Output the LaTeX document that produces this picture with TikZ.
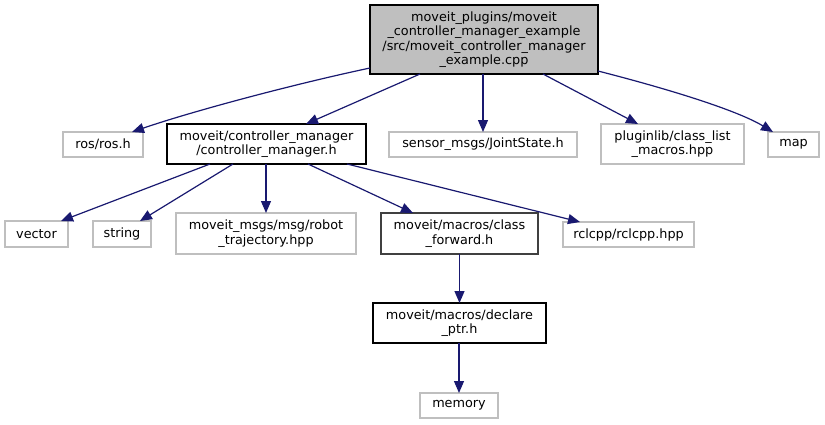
\documentclass[tikz,border=0pt]{standalone}
\usepackage{fontspec}
\setmainfont{DejaVu Sans}
\usetikzlibrary{arrows.meta,calc}
\definecolor{edgeblue}{HTML}{191970}
\definecolor{lightframe}{HTML}{BFBFBF}
\definecolor{darkframe}{HTML}{404040}
\definecolor{mainfill}{HTML}{BFBFBF}
\begin{document}
\begin{tikzpicture}[x=1pt,y=-1pt,
  every node/.style={font=\fontsize{12.8}{14.3}\selectfont, align=center, inner sep=0pt, outer sep=0pt, text=black},
  filebox/.style={draw=lightframe, line width=1.3pt, fill=white, rectangle},
  docbox/.style={draw=black, line width=1.3pt, fill=white, rectangle},
  fwdbox/.style={draw=darkframe, line width=1.3pt, fill=white, rectangle},
  mainbox/.style={draw=black, line width=1.3pt, fill=mainfill, rectangle},
  dep/.style={draw=edgeblue, line width=1.2pt, -{Triangle[length=12pt,width=10pt]}}]
\useasboundingbox (0,0) rectangle (825,424);
\fill[white] (0,0) rectangle (825,424);

\node[mainbox, minimum width=228pt, minimum height=69pt] (main) at (484,39.5)
  {moveit\_plugins/moveit\\\_controller\_manager\_example\\/src/moveit\_controller\_manager\\\_example.cpp};
\node[filebox, minimum width=80pt, minimum height=25pt] (ros) at (103,144.5) {ros/ros.h};
\node[docbox, minimum width=199pt, minimum height=40pt] (cm) at (266.5,144) {moveit/controller\_manager\\/controller\_manager.h};
\node[filebox, minimum width=188pt, minimum height=25pt] (sensor) at (483,144.5) {sensor\_msgs/JointState.h};
\node[filebox, minimum width=143pt, minimum height=40pt] (plugin) at (672.5,144) {pluginlib/class\_list\\\_macros.hpp};
\node[filebox, minimum width=51pt, minimum height=25pt] (map) at (793.5,144.5) {map};
\node[filebox, minimum width=63pt, minimum height=26pt] (vector) at (36.5,234) {vector};
\node[filebox, minimum width=58pt, minimum height=26pt] (string) at (122,234) {string};
\node[filebox, minimum width=180pt, minimum height=41pt] (robot) at (266,233.5) {moveit\_msgs/msg/robot\\\_trajectory.hpp};
\node[fwdbox, minimum width=157pt, minimum height=41pt] (cf) at (459.5,233.5) {moveit/macros/class\\\_forward.h};
\node[filebox, minimum width=131pt, minimum height=25pt] (rclcpp) at (628.5,234.5) {rclcpp/rclcpp.hpp};
\node[docbox, minimum width=173pt, minimum height=40pt] (declare) at (459.5,323) {moveit/macros/declare\\\_ptr.h};
\node[filebox, minimum width=78pt, minimum height=25pt] (memory) at (459,405.5) {memory};

% edges from main
\draw[dep] ($(main.south west)+(0,-6)$) .. controls (290,85) and (190,112) .. ($(ros.north east)+(-11,0)$);
\draw[dep] ($(main.south west)+(50,0)$) -- ($(cm.north)+(39.5,0)$);
\draw[dep] (main.south -| sensor.north) -- (sensor.north);
\draw[dep] ($(main.south west)+(173,0)$) -- ($(plugin.north)+(-34.5,0)$);
\draw[dep] ($(main.south east)+(0,-3)$) .. controls (680,92) and (740,112) .. ($(map.north west)+(5,0)$);

% edges from controller_manager
\draw[dep] ($(cm.south west)+(43,0)$) -- ($(vector.north east)+(-7,0)$);
\draw[dep] ($(cm.south west)+(66,0)$) -- ($(string.north)+(18,0)$);
\draw[dep] (cm.south -| robot.north) -- (robot.north);
\draw[dep] ($(cm.south west)+(141,0)$) -- ($(cf.north)+(-46.5,0)$);
\draw[dep] ($(cm.south west)+(180,0)$) -- ($(rclcpp.north)+(-48.5,0)$);

% chain
\draw[dep] (cf.south -| declare.north) -- (declare.north);
\draw[dep] (declare.south -| memory.north) -- (memory.north);
\end{tikzpicture}
\end{document}
